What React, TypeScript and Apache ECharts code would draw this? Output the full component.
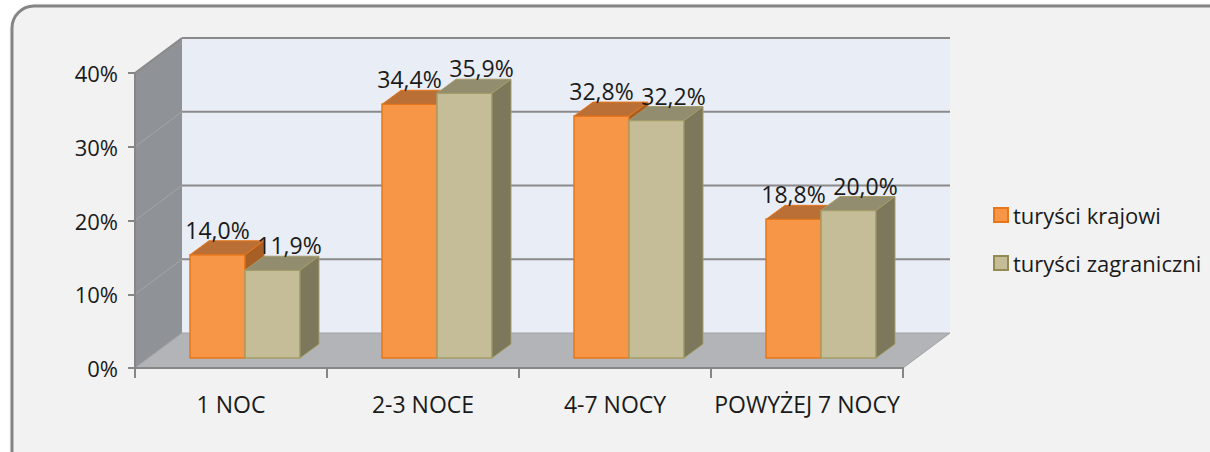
import React, { useEffect, useRef } from "react";
import * as echarts from "echarts";

const categories = ["1 NOC", "2-3 NOCE", "4-7 NOCY", "POWYŻEJ 7 NOCY"];
const domestic = [14.0, 34.4, 32.8, 18.8];
const foreign = [11.9, 35.9, 32.2, 20.0];
const seriesNames = ["turyści krajowi", "turyści zagraniczni"];
const yTicks = [0, 10, 20, 30, 40];

const FONT = "'Open Sans', sans-serif";
const WALL_DX = 47;
const WALL_DY = -35;
const PLANE_DX = 14;
const PLANE_DY = -10;
const BAR_W = 55;
const BAR_DX = 19;
const BAR_DY = -14;

const STYLES = [
  { front: "#f79646", top: "#b96f35", side: "#a85f25", border: "#e8761a", labelDx: 0 },
  { front: "#c4bd97", top: "#928d6e", side: "#7d785b", border: "#a59d6a", labelDx: 17 },
];

const fmt = (v: number) => v.toFixed(1).replace(".", ",") + "%";

function barRender(which: number) {
  const st = STYLES[which];
  return (params: any, api: any) => {
    const cat = api.value(0);
    const val = api.value(1);
    const base = api.coord([cat, 0]);
    const top = api.coord([cat, val]);
    const x0 = base[0] + PLANE_DX - BAR_W + which * BAR_W;
    const x1 = x0 + BAR_W;
    const yb = base[1] + PLANE_DY;
    const yt = top[1] + PLANE_DY;
    return {
      type: "group",
      children: [
        {
          type: "rect",
          shape: { x: x0, y: yt, width: BAR_W, height: yb - yt },
          style: { fill: st.front, stroke: st.border, lineWidth: 1.5 },
        },
        {
          type: "polygon",
          shape: {
            points: [
              [x0, yt],
              [x0 + BAR_DX, yt + BAR_DY],
              [x1 + BAR_DX, yt + BAR_DY],
              [x1, yt],
            ],
          },
          style: { fill: st.top, stroke: st.border, lineWidth: 1 },
        },
        {
          type: "polygon",
          shape: {
            points: [
              [x1, yt],
              [x1 + BAR_DX, yt + BAR_DY],
              [x1 + BAR_DX, yb + BAR_DY],
              [x1, yb],
            ],
          },
          style: { fill: st.side, stroke: st.border, lineWidth: 1 },
        },
        {
          type: "text",
          z2: 100,
          style: {
            x: (x0 + x1) / 2 + st.labelDx,
            y: yt - 25,
            text: fmt(val),
            align: "center",
            verticalAlign: "middle",
            fill: "#1a1a1a",
            font: `23px ${FONT}`,
          },
        },
      ],
    };
  };
}

function wallsRender(params: any, api: any) {
  const cs = params.coordSys;
  const L = cs.x;
  const T = cs.y;
  const R = cs.x + cs.width;
  const B = cs.y + cs.height;
  const children: any[] = [
    {
      type: "rect",
      shape: { x: L + WALL_DX, y: T + WALL_DY, width: R - L, height: B - T },
      style: { fill: "#e9edf6" },
    },
    {
      type: "polygon",
      shape: {
        points: [
          [L, T],
          [L + WALL_DX, T + WALL_DY],
          [L + WALL_DX, B + WALL_DY],
          [L, B],
        ],
      },
      style: { fill: "#8f9297" },
    },
    {
      type: "polygon",
      shape: {
        points: [
          [L, B],
          [L + WALL_DX, B + WALL_DY],
          [R + WALL_DX, B + WALL_DY],
          [R, B],
        ],
      },
      style: { fill: "#b2b4b8", stroke: "#a0a2a5", lineWidth: 1 },
    },
  ];
  yTicks.forEach((v) => {
    const y = api.coord([0, v])[1];
    if (v > 0) {
      children.push({
        type: "line",
        shape: { x1: L + WALL_DX, y1: y + WALL_DY, x2: R + WALL_DX, y2: y + WALL_DY },
        style: { stroke: "#8a8a8a", lineWidth: 2 },
      });
    }
    children.push({
      type: "line",
      shape: { x1: L, y1: y, x2: L + WALL_DX, y2: y + WALL_DY },
      style: { stroke: v === 40 ? "#8a8a8a" : "#a2a5a9", lineWidth: v === 40 ? 2 : 1 },
    });
  });
  return { type: "group", children };
}

export default function App() {
  const ref = useRef<HTMLDivElement>(null);
  useEffect(() => {
    if (!ref.current) return;
    const chart = echarts.init(ref.current, null, { renderer: "svg" });
    chart.setOption({
      animation: false,
      backgroundColor: "#ffffff",
      textStyle: { fontFamily: FONT },
      graphic: [
        {
          type: "rect",
          z: 0,
          shape: { x: 12, y: 6, width: 1230, height: 480, r: 22 },
          style: {
            fill: "#f2f2f2",
            stroke: "#858585",
            lineWidth: 3,
            shadowBlur: 3,
            shadowColor: "rgba(0,0,0,0.25)",
            shadowOffsetX: 1,
            shadowOffsetY: 1,
          },
        },
      ],
      grid: { left: 135, top: 73, width: 768, height: 295, containLabel: false },
      legend: {
        orient: "vertical",
        left: 993,
        top: 204,
        padding: 0,
        icon: "rect",
        itemWidth: 14,
        itemHeight: 14,
        itemGap: 26,
        textStyle: { fontSize: 22, fontFamily: FONT, color: "#1a1a1a" },
        data: [
          { name: seriesNames[0], itemStyle: { color: STYLES[0].front, borderColor: STYLES[0].border, borderWidth: 2 } },
          { name: seriesNames[1], itemStyle: { color: STYLES[1].front, borderColor: "#948a54", borderWidth: 2 } },
        ],
      },
      xAxis: {
        type: "category",
        data: categories,
        z: 3,
        axisLine: { lineStyle: { color: "#868686", width: 2 } },
        axisTick: { show: true, interval: 0, length: 10, lineStyle: { color: "#868686", width: 2 } },
        axisLabel: { interval: 0, fontSize: 23, fontFamily: FONT, color: "#1a1a1a", margin: 24 },
        splitLine: { show: false },
      },
      yAxis: {
        type: "value",
        min: 0,
        max: 40,
        interval: 10,
        z: 3,
        axisLine: { show: true, lineStyle: { color: "#868686", width: 2 } },
        axisTick: { show: true, length: 7, lineStyle: { color: "#868686", width: 2 } },
        axisLabel: {
          fontSize: 22,
          fontFamily: FONT,
          color: "#1a1a1a",
          margin: 17,
          formatter: "{value}%",
        },
        splitLine: { show: false },
      },
      series: [
        {
          type: "custom",
          name: "walls",
          z: 1,
          silent: true,
          clip: false,
          renderItem: wallsRender,
          data: [[0, 0]],
        },
        {
          type: "custom",
          name: seriesNames[0],
          z: 2,
          clip: false,
          itemStyle: { color: STYLES[0].front },
          renderItem: barRender(0),
          data: domestic.map((v, i) => [i, v]),
        },
        {
          type: "custom",
          name: seriesNames[1],
          z: 2,
          clip: false,
          itemStyle: { color: STYLES[1].front },
          renderItem: barRender(1),
          data: foreign.map((v, i) => [i, v]),
        },
      ],
    });
    return () => chart.dispose();
  }, []);
  return (
    <div
      ref={ref}
      style={{ position: "fixed", left: 0, top: 0, width: 1210, height: 452 }}
    />
  );
}
